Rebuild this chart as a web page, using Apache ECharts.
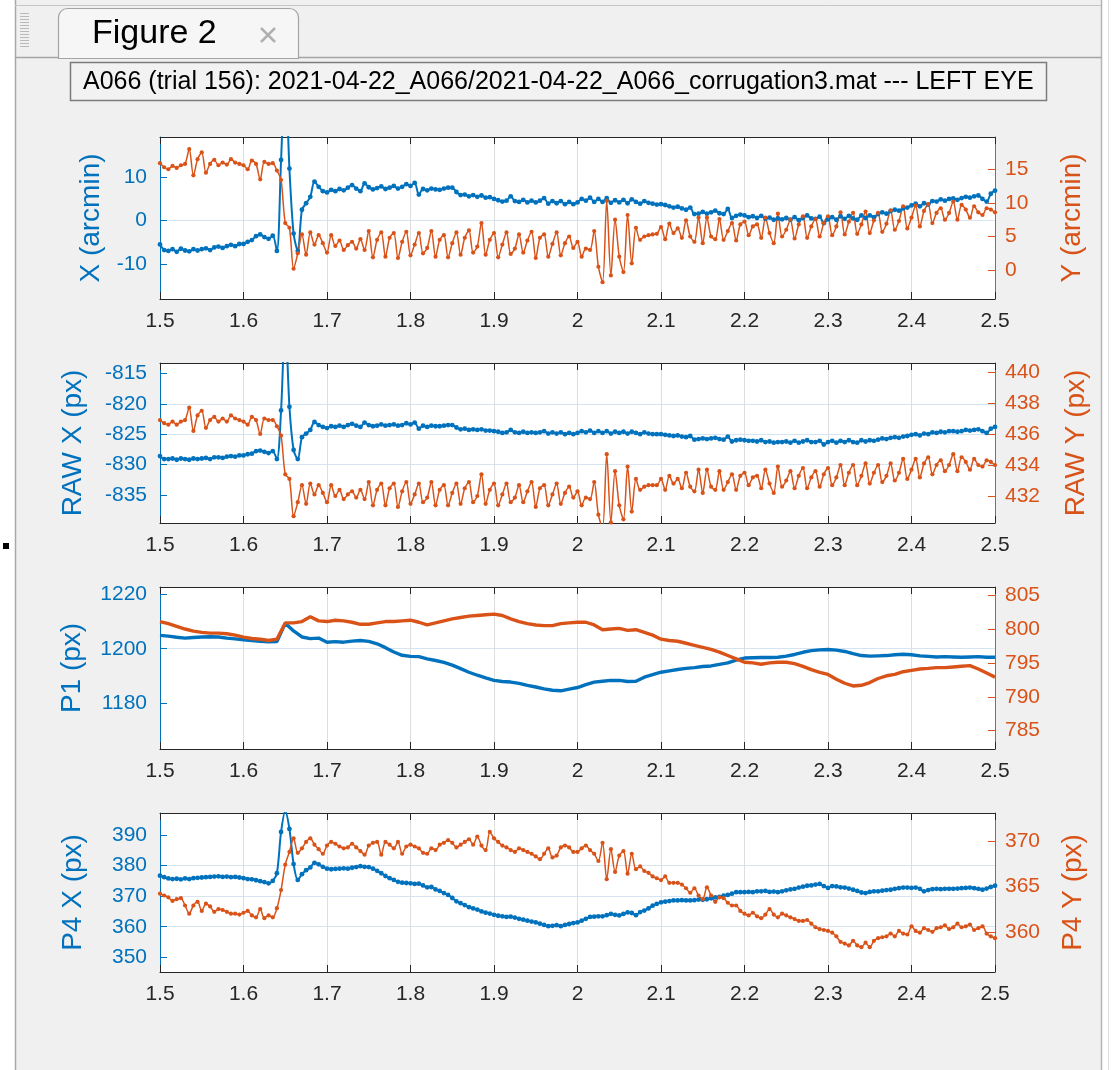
<!DOCTYPE html>
<html><head><meta charset="utf-8">
<script src="https://cdn.jsdelivr.net/npm/echarts@6/dist/echarts.min.js"></script>
<style>html,body{margin:0;padding:0;background:#fff;}#c{width:1119px;height:1070px;}</style>
</head><body><div id="c"></div>
<script>
// ---------------- data ----------------
const tStart = 1.5;
const fineStep = 0.005;   // sample spacing of the dense traces
const coarseStep = 0.01;  // sample spacing of the P1 traces
const xTicks = [1.5,1.6,1.7,1.8,1.9,2.0,2.1,2.2,2.3,2.4,2.5];
const xTickLabels = ['1.5','1.6','1.7','1.8','1.9','2','2.1','2.2','2.3','2.4','2.5'];
const p1LeftTicks = [-10,0,10];
const p1RightTicks = [0,5,10,15];
const p2LeftTicks = [-835,-830,-825,-820,-815];
const p2RightTicks = [432,434,436,438,440];
const p3LeftTicks = [1180,1200,1220];
const p3RightTicks = [785,790,795,800,805];
const p4LeftTicks = [350,360,370,380,390];
const p4RightTicks = [360,365,370];

const xArcmin = [-5.5,-6.8,-7.0,-6.6,-7.2,-6.5,-6.9,-7.1,-6.6,-6.9,
-6.6,-6.4,-6.8,-6.2,-6.0,-6.3,-5.9,-5.6,-5.9,-5.4,
-5.4,-4.9,-4.5,-3.6,-3.2,-3.8,-4.2,-3.5,-7.0,14,
35,12,-3,-7,2.5,4,5.5,9,7.8,6.8,
6.5,7.1,6.8,7.3,7.0,7.6,8.2,7.4,6.8,8.6,
7.7,7.2,7.5,7.9,7.3,7.6,8.0,7.4,7.8,8.4,
8.0,8.7,6.0,7.3,7.0,7.4,7.2,7.1,7.4,7.6,
7.6,6.6,5.9,6.0,5.6,5.9,5.5,5.8,5.3,5.4,
5.0,4.7,4.4,4.6,5.6,4.5,4.3,4.8,4.2,4.6,
4.2,4.6,5.2,3.9,4.5,4.0,4.5,3.8,4.3,3.8,
4.2,5.0,4.6,5.3,4.3,5.0,4.3,5.2,4.1,4.7,
4.2,4.8,4.0,4.9,4.3,3.9,4.5,4.1,3.9,3.7,
3.8,3.6,3.3,3.0,3.2,2.8,2.5,3.0,1.5,1.6,
2.0,1.6,1.9,2.3,1.7,1.5,2.7,0.6,1.1,1.4,
1.2,0.8,1.0,0.6,1.1,0.4,0.7,0.2,0.5,0.3,
0.6,0.2,0.8,0.1,0.6,1.2,0.5,0.4,0.9,-0.6,
0.3,0.8,0.2,1.0,0.4,1.1,0.5,0.2,1.2,0.6,
1.2,0.8,1.5,1.9,1.6,2.2,2.5,2.3,2.8,3.0,
3.5,3.9,3.3,4.0,3.7,4.5,4.4,4.9,4.6,5.0,
5.1,4.8,5.2,5.5,5.3,5.6,5.8,5.0,4.4,6.2,6.9];

const yArcmin = [15.9,15.3,15.0,15.5,15.2,15.6,15.8,18.0,14.1,16.5,
17.5,14.5,15.8,16.4,15.6,16.0,15.7,16.5,16.0,15.8,
15.6,15.0,16.3,15.8,13.5,16.1,15.8,15.9,14.8,13.4,
7.0,6.3,0.2,2.5,5.3,2.3,5.6,3.8,5.2,4.0,
2.6,5.2,3.6,4.4,3.0,3.7,4.2,3.2,4.6,3.0,
5.8,1.9,4.5,5.6,2.0,4.8,5.5,1.8,4.2,5.7,
2.2,3.8,5.5,2.5,3.3,5.8,2.0,4.5,5.2,1.9,
4.0,5.6,2.3,4.8,5.9,2.6,3.5,7.0,2.3,4.5,
5.5,1.9,3.8,5.6,2.4,3.2,5.3,2.6,4.4,5.7,
1.8,4.8,5.3,2.0,3.9,5.6,2.2,4.0,5.0,3.3,
4.2,2.0,3.2,3.0,5.8,0.5,-1.8,10.3,-0.8,7.5,
2.0,-0.3,8.2,1.0,6.3,4.5,5.0,5.2,5.3,5.4,
6.4,4.6,6.9,5.5,6.2,4.8,7.4,5.0,4.2,7.8,
4.0,7.8,5.0,4.6,7.6,4.5,5.8,7.0,4.4,6.8,
7.2,5.2,6.5,6.8,4.8,7.8,5.5,4.0,8.4,5.0,
6.0,7.5,4.7,6.8,8.0,4.8,6.5,7.6,5.0,7.0,
8.0,5.2,6.5,8.6,5.3,7.2,8.5,5.4,6.8,8.7,
5.5,7.4,8.5,5.7,6.9,8.9,6.0,7.3,9.5,6.2,
7.8,9.6,6.5,8.8,9.8,7.0,8.5,9.2,7.5,8.5,
10.2,7.5,9.7,9.0,7.8,9.5,8.6,8.2,9.2,9.0,8.6];

const rawX = [-828.6,-829.1,-829.1,-829.0,-829.2,-829.0,-829.1,-829.2,-829.0,-829.1,
-829.0,-828.9,-829.1,-828.8,-828.8,-828.9,-828.7,-828.6,-828.7,-828.5,
-828.5,-828.3,-828.2,-827.8,-827.7,-827.9,-828.1,-827.8,-829.1,-821.1,
-806.0,-820.5,-827.6,-829.1,-825.5,-824.9,-824.3,-823.0,-823.5,-823.8,
-824.0,-823.7,-823.8,-823.6,-823.8,-823.5,-823.3,-823.6,-823.8,-823.1,
-823.5,-823.7,-823.6,-823.4,-823.6,-823.5,-823.4,-823.6,-823.5,-823.2,
-823.4,-823.1,-824.1,-823.6,-823.8,-823.6,-823.7,-823.7,-823.6,-823.5,
-823.5,-823.9,-824.2,-824.1,-824.3,-824.2,-824.3,-824.2,-824.4,-824.4,
-824.5,-824.6,-824.8,-824.7,-824.3,-824.7,-824.8,-824.6,-824.8,-824.7,
-824.8,-824.7,-824.5,-824.9,-824.7,-824.9,-824.7,-825.0,-824.8,-825.0,
-824.8,-824.5,-824.7,-824.4,-824.8,-824.5,-824.8,-824.5,-824.9,-824.6,
-824.8,-824.6,-824.9,-824.6,-824.8,-825.0,-824.7,-824.9,-825.0,-825.0,
-825.0,-825.1,-825.2,-825.3,-825.2,-825.4,-825.5,-825.3,-825.9,-825.8,
-825.7,-825.8,-825.7,-825.6,-825.8,-825.9,-825.4,-826.2,-826.0,-825.9,
-826.0,-826.1,-826.1,-826.2,-826.0,-826.3,-826.2,-826.4,-826.3,-826.3,
-826.2,-826.4,-826.1,-826.4,-826.2,-826.0,-826.3,-826.3,-826.1,-826.7,
-826.3,-826.1,-826.4,-826.1,-826.3,-826.0,-826.3,-826.4,-826.0,-826.2,
-826.0,-826.1,-825.9,-825.7,-825.8,-825.6,-825.5,-825.6,-825.4,-825.3,
-825.1,-825.0,-825.2,-824.9,-825.0,-824.7,-824.8,-824.6,-824.7,-824.5,
-824.5,-824.6,-824.5,-824.3,-824.4,-824.3,-824.2,-824.5,-824.8,-824.1,-823.8];

const rawY = [436.9,436.7,436.6,436.8,436.6,436.8,436.9,437.7,436.2,437.2,
437.5,436.4,436.9,437.1,436.8,437.0,436.8,437.2,437.0,436.9,
436.8,436.6,437.1,436.9,436.0,437.0,436.9,436.9,436.5,435.9,
433.4,433.1,430.7,431.6,432.7,431.5,432.8,432.1,432.7,432.2,
431.6,432.7,432.0,432.4,431.8,432.1,432.3,431.9,432.4,431.8,
432.9,431.4,432.4,432.8,431.4,432.5,432.8,431.3,432.3,432.9,
431.5,432.1,432.8,431.6,431.9,432.9,431.4,432.4,432.7,431.4,
432.2,432.8,431.5,432.5,432.9,431.6,432.0,433.4,431.5,432.4,
432.8,431.4,432.1,432.8,431.6,431.9,432.7,431.6,432.3,432.9,
431.3,432.5,432.7,431.4,432.1,432.8,431.5,432.2,432.6,431.9,
432.3,431.4,431.9,431.8,432.9,430.8,429.9,434.7,430.3,433.6,
431.4,430.5,433.9,431.0,433.1,432.4,432.6,432.7,432.7,432.7,
433.1,432.4,433.3,432.8,433.1,432.5,433.5,432.6,432.3,433.7,
432.2,433.7,432.6,432.4,433.6,432.4,432.9,433.4,432.4,433.3,
433.5,432.7,433.2,433.3,432.5,433.7,432.8,432.2,433.9,432.6,
433.0,433.6,432.5,433.3,433.8,432.5,433.2,433.6,432.6,433.4,
433.8,432.7,433.2,434.0,432.7,433.5,434.0,432.7,433.3,434.1,
432.8,433.5,434.0,432.9,433.3,434.1,433.0,433.5,434.4,433.1,
433.7,434.4,433.2,434.1,434.5,433.4,434.0,434.3,433.6,434.0,
434.7,433.6,434.5,434.2,433.7,434.4,434.0,433.9,434.3,434.2,434.0];

const p1Left = [1204.9,1204.6,1204.2,1203.9,1204.1,1204.3,1204.4,1204.3,1203.9,1203.6,
1203.3,1203.0,1202.7,1202.5,1202.6,1209.3,1206.5,1204.3,1203.7,1203.9,
1202.4,1202.6,1202.4,1202.8,1203.0,1202.7,1201.8,1200.4,1198.8,1197.6,
1197.2,1197.1,1196.3,1195.7,1195.0,1194.0,1192.7,1191.4,1190.3,1189.3,
1188.4,1188.0,1187.8,1187.3,1186.6,1186.0,1185.3,1184.8,1184.6,1185.2,
1185.8,1186.9,1187.8,1188.1,1188.4,1188.4,1188.0,1188.1,1189.6,1190.5,
1191.4,1191.9,1192.4,1192.8,1193.1,1193.5,1193.7,1194.3,1194.8,1195.8,
1196.6,1196.7,1196.8,1196.8,1196.9,1197.3,1197.9,1198.7,1199.3,1199.6,
1199.7,1199.5,1199.0,1198.2,1197.5,1197.3,1197.4,1197.5,1197.8,1198.0,
1197.8,1197.4,1197.2,1197.0,1197.1,1197.0,1196.9,1197.0,1197.1,1196.9,1196.9];

const p1Right = [801.1,800.8,800.4,800.0,799.7,799.5,799.4,799.4,799.3,799.1,
798.8,798.6,798.5,798.3,798.5,800.9,800.9,801.1,801.8,801.2,
801.1,801.3,801.2,801.0,800.7,800.7,800.9,801.1,801.1,801.2,
801.3,801.0,800.6,800.9,801.2,801.5,801.7,801.9,802.0,802.1,
802.2,802.0,801.5,801.1,800.8,800.6,800.5,800.5,800.8,800.9,
801.0,801.0,800.6,799.9,800.0,800.1,799.8,799.9,799.5,799.1,
798.5,798.3,798.2,797.9,797.6,797.3,797.0,796.6,796.1,795.6,
795.1,795.0,794.8,795.0,795.1,795.1,794.9,794.5,794.0,793.6,
793.3,792.6,792.0,791.6,791.7,792.1,792.7,793.1,793.3,793.7,
793.9,794.1,794.2,794.3,794.3,794.4,794.5,794.6,794.1,793.5,792.9];

const p4X = [376.7,376.2,375.8,375.6,375.7,375.5,375.8,375.6,375.9,376.0,
376.1,376.2,376.3,376.4,376.5,376.3,376.4,376.2,376.3,376.1,
375.9,375.6,375.5,375.2,374.9,374.6,374.2,375.0,377.5,391.0,
397.8,392.0,380.5,375.3,377.2,378.5,379.4,380.9,380.4,379.6,
379.0,378.8,378.9,379.0,379.1,379.0,379.3,379.5,379.8,379.6,
379.5,379.0,378.3,377.5,376.6,375.9,375.3,374.7,374.4,374.3,
374.2,374.0,374.1,373.5,372.9,373.0,372.2,371.7,371.0,370.4,
369.4,368.3,367.7,367.1,366.4,366.0,365.6,365.0,364.6,364.3,
363.9,363.6,363.4,363.2,363.3,363.0,362.6,362.3,362.0,361.7,
361.4,361.0,360.6,360.2,360.3,360.5,360.2,360.6,360.9,361.2,
361.4,362.0,362.6,363.2,363.3,363.4,363.4,363.8,364.2,363.9,
363.7,364.2,364.7,364.5,363.8,364.8,365.3,366.0,366.9,367.5,
368.0,368.2,368.4,368.6,368.6,368.7,368.6,368.6,368.7,368.9,
368.8,369.0,369.3,369.6,369.8,370.2,370.4,370.8,371.3,371.3,
371.3,371.4,371.3,371.6,371.6,371.7,371.4,371.5,371.3,371.6,
371.9,372.2,372.4,372.8,373.1,373.4,373.5,373.8,374.0,373.3,
372.7,373.3,373.2,372.9,372.8,372.5,372.1,371.7,371.2,371.0,
371.4,371.6,371.6,371.8,372.0,372.1,372.4,372.6,372.8,372.8,
372.7,372.8,372.4,371.6,372.0,372.3,372.4,372.3,372.4,372.4,
372.4,372.5,372.6,372.7,372.8,372.6,372.4,372.1,372.5,373.0,373.4];

const p4Y = [364.2,364.0,363.8,363.4,363.6,363.7,362.9,362.0,362.9,363.3,
362.3,363.1,362.8,362.2,362.5,362.4,362.2,362.0,362.0,361.9,
362.1,362.3,361.8,361.6,362.5,361.5,361.8,361.6,362.6,364.6,
367.4,368.8,370.3,368.7,369.2,369.9,370.3,369.6,369.1,368.6,
369.5,369.9,369.7,369.4,369.2,369.3,369.7,369.3,368.9,368.5,
369.5,369.8,369.9,368.5,369.9,369.6,369.2,369.9,368.6,369.4,
369.6,369.4,369.2,368.7,368.6,369.2,369.0,369.6,369.8,370.1,
369.8,369.3,369.6,369.9,370.2,369.6,370.5,369.5,369.0,371.0,
370.3,369.9,369.5,369.3,369.0,368.8,369.2,369.0,368.8,368.6,
368.3,368.0,368.6,369.2,368.2,368.4,369.3,369.5,369.3,368.8,
368.8,369.2,369.5,369.0,368.6,367.8,369.8,365.8,369.1,366.6,
368.4,368.9,366.4,368.6,366.9,367.2,366.7,366.5,366.1,365.9,
365.7,366.1,365.4,365.4,365.4,365.2,364.8,364.3,364.8,364.0,
363.6,364.9,364.0,363.3,363.8,363.7,363.2,362.9,362.9,362.3,
362.0,361.8,362.1,361.7,361.5,361.9,362.5,361.9,361.6,362.0,
361.8,361.6,361.4,361.2,361.2,361.3,360.9,360.5,360.3,360.2,
360.1,359.9,359.5,358.9,358.7,358.5,359.0,358.5,358.3,358.8,
358.3,359.0,359.3,359.4,359.5,359.8,359.5,360.1,359.8,359.7,
360.6,360.1,359.9,360.4,360.2,360.0,360.4,360.5,360.7,360.3,
360.5,360.9,360.5,360.6,360.8,360.2,360.4,360.6,359.8,359.5,359.3];

const titleText = 'A066 (trial 156): 2021-04-22_A066/2021-04-22_A066_corrugation3.mat --- LEFT EYE';
const tabText = 'Figure 2';

// ---------------- layout / styles ----------------
const FONT = "'Liberation Sans', Arial, Helvetica, sans-serif";
const BLUE = '#0072BD', ORANGE = '#D95319', DARK = '#262626';
const TICK_FS = 21, NAME_FS = 28;

const panels = [
  {top:137, height:162, step:fineStep, dots:true,  a:xArcmin, b:yArcmin,
   L:{name:'X (arcmin)', min:-18.1, max:19.3, iv:10, ticks:p1LeftTicks, gap:52},
   R:{name:'Y (arcmin)', min:-4.3, max:19.8, iv:5, ticks:p1RightTicks, gap:63}},
  {top:363, height:160, step:fineStep, dots:true,  a:rawX, b:rawY,
   L:{name:'RAW X (px)', min:-839.6, max:-813.3, iv:5, ticks:p2LeftTicks, gap:73},
   R:{name:'RAW Y (px)', min:430.26, max:440.58, iv:2, ticks:p2RightTicks, gap:67}},
  {top:587, height:162, step:coarseStep, dots:false, a:p1Left, b:p1Right,
   L:{name:'P1 (px)', min:1163.3, max:1222.6, iv:20, ticks:p3LeftTicks, gap:74},
   R:{name:'', min:782.3, max:806.2, iv:5, ticks:p3RightTicks, gap:63}},
  {top:813, height:159, step:fineStep, dots:true,  a:p4X, b:p4Y,
   L:{name:'P4 X (px)', min:345.2, max:397.2, iv:10, ticks:p4LeftTicks, gap:73},
   R:{name:'P4 Y (px)', min:355.57, max:373.09, iv:5, ticks:p4RightTicks, gap:64}}
];

function pairs(arr, step) {
  return arr.map((v, i) => [Math.round((tStart + i * step) * 1000) / 1000, v]);
}

const grid = [], xAxis = [], yAxis = [], series = [];
panels.forEach((p, k) => {
  grid.push({left:160, width:835, top:p.top, height:p.height, show:true,
             backgroundColor:'#ffffff', borderWidth:0, containLabel:false, outerBoundsMode:'none'});
  const xBase = {type:'value', gridIndex:k, min:1.5, max:2.5, minInterval:0.1, maxInterval:0.1, splitNumber:10};
  xAxis.push(Object.assign({}, xBase, {
    position:'bottom',
    axisLine:{show:true, onZero:false, lineStyle:{color:DARK, width:1}},
    axisTick:{show:true, inside:true, length:7, customValues:xTicks, lineStyle:{color:DARK}},
    axisLabel:{show:true, color:DARK, fontSize:TICK_FS, fontFamily:FONT, margin:12, customValues:xTicks,
               formatter: v => { const i = xTicks.findIndex(t => Math.abs(t - v) < 1e-6); return i >= 0 ? xTickLabels[i] : ''; }},
    splitLine:{show:true, showMinLine:false, showMaxLine:false, lineStyle:{color:'#dedede', width:1}}
  }));
  xAxis.push(Object.assign({}, xBase, {
    position:'top',
    axisLine:{show:true, onZero:false, lineStyle:{color:DARK, width:1}},
    axisTick:{show:true, inside:true, length:7, customValues:xTicks, lineStyle:{color:DARK}},
    axisLabel:{show:false}, splitLine:{show:false}
  }));
  const mk = (side, cfg, color) => ({
    type:'value', gridIndex:k, position:side, min:cfg.min, max:cfg.max,
    minInterval:cfg.iv, maxInterval:cfg.iv, splitNumber:5,
    name:cfg.name, nameLocation:'middle', nameGap:cfg.gap, nameRotate:90,
    nameTextStyle:{color:color, fontSize:NAME_FS, fontFamily:FONT},
    axisLine:{show:true, onZero:false, lineStyle:{color:color, width:1}},
    axisTick:{show:true, inside:true, length:7, customValues:cfg.ticks, lineStyle:{color:color}},
    axisLabel:{show:true, color:color, fontSize:TICK_FS, fontFamily:FONT, customValues:cfg.ticks,
               margin: side === 'left' ? 13 : 10, formatter: v => String(Math.round(v * 1000) / 1000)},
    splitLine: side === 'left'
      ? {show:true, showMinLine:false, showMaxLine:false, lineStyle:{color:'#d6e4f1', width:1}}
      : {show:false}
  });
  yAxis.push(mk('left', p.L, BLUE));
  yAxis.push(mk('right', p.R, ORANGE));
  const sBase = (data, color, yi, lw, sz) => ({
    type:'line', xAxisIndex:2*k, yAxisIndex:yi, data:data, silent:true,
    showSymbol:p.dots, showAllSymbol:true, symbol:'circle', symbolSize:p.dots ? sz : 0,
    smooth: p.dots ? 0.3 : false,
    itemStyle:{color:color}, lineStyle:{color:color, width:p.dots ? lw : 3.4},
    clip:true, animation:false
  });
  series.push(sBase(pairs(p.a, p.step), BLUE, 2*k, 2.0, 4.8));
  series.push(sBase(pairs(p.b, p.step), ORANGE, 2*k+1, 1.5, 4.2));
});

// window frame drawn as graphic elements
const gripLines = [];
for (let y = 13; y <= 46; y += 3) {
  gripLines.push({type:'line', shape:{x1:20, y1:y+0.5, x2:29, y2:y+0.5}, style:{stroke:'#b9b9b9', lineWidth:1}, silent:true});
}
const frame = [
  {type:'rect', shape:{x:0, y:0, width:15, height:1070}, style:{fill:'#ffffff'}, silent:true},
  {type:'rect', shape:{x:1102, y:0, width:17, height:1070}, style:{fill:'#ffffff'}, silent:true},
  {type:'line', shape:{x1:15.5, y1:0, x2:15.5, y2:1070}, style:{stroke:'#a8a8a8', lineWidth:1.5}, silent:true},
  {type:'line', shape:{x1:1101.5, y1:0, x2:1101.5, y2:1070}, style:{stroke:'#b4b4b4', lineWidth:1.5}, silent:true},
  {type:'line', shape:{x1:1108.5, y1:0, x2:1108.5, y2:1070}, style:{stroke:'#dddddd', lineWidth:1}, silent:true},
  {type:'line', shape:{x1:15, y1:5.5, x2:1101, y2:5.5}, style:{stroke:'#c6c6c6', lineWidth:1}, silent:true},
  {type:'line', shape:{x1:15, y1:57.5, x2:1101, y2:57.5}, style:{stroke:'#a4a4a4', lineWidth:1.5}, silent:true},
  {type:'rect', shape:{x:58.5, y:8.5, width:240, height:50, r:[9,9,0,0]}, style:{fill:'#f6f6f6', stroke:'#a4a4a4', lineWidth:1.2}, silent:true},
  {type:'text', x:92, y:34, style:{text:tabText, fill:'#000000', fontSize:34, fontFamily:FONT, verticalAlign:'middle', align:'left'}, silent:true},
  {type:'line', shape:{x1:261, y1:28, x2:275, y2:42}, style:{stroke:'#b0b0b0', lineWidth:2.5}, silent:true},
  {type:'line', shape:{x1:275, y1:28, x2:261, y2:42}, style:{stroke:'#b0b0b0', lineWidth:2.5}, silent:true},
  {type:'rect', shape:{x:70.5, y:62.5, width:976, height:38}, style:{fill:'#f2f2f2', stroke:'#7c7c7c', lineWidth:1.5}, silent:true},
  {type:'text', x:83, y:82, style:{text:titleText, fill:'#000000', fontSize:25, fontFamily:FONT, verticalAlign:'middle', align:'left'}, silent:true},
  {type:'rect', shape:{x:3, y:543, width:6, height:6}, style:{fill:'#000000'}, silent:true}
].concat(gripLines);

const chart = echarts.init(document.getElementById('c'), null, {renderer:'canvas', width:1119, height:1070});
chart.setOption({
  backgroundColor:'#f0f0f0',
  animation:false,
  grid:grid, xAxis:xAxis, yAxis:yAxis, series:series,
  graphic:{elements:frame}
});
</script></body></html>
